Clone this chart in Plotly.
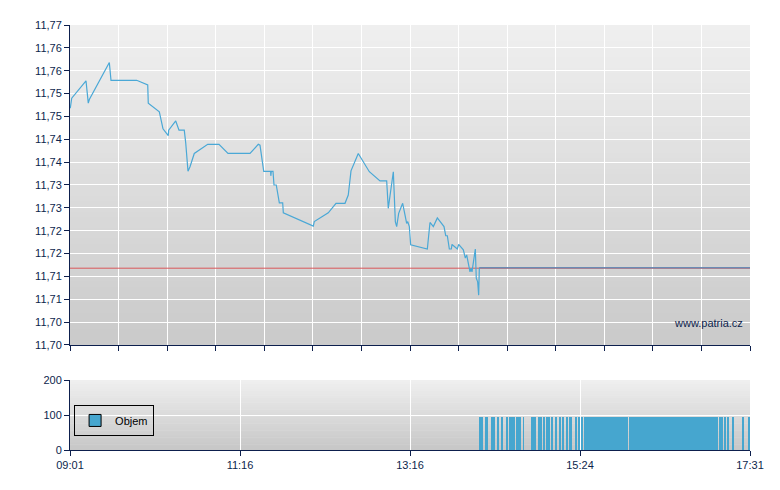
#!/usr/bin/env python3

import plotly.graph_objects as go

# price trace, minutes since 09:01
price_min = [0.2, 1.3, 12, 13.7, 14.5, 29.5, 30.75, 50, 58.3, 58.7,
             67, 69.75, 73.7, 74, 79.3, 81.75, 85.7, 86.8, 88.5, 90,
             93.2, 103.3, 111.75, 118.5, 135, 141.2, 142.5, 144, 145.3, 150.5,
             150.6, 151, 152.25, 153, 154.7, 157, 159.5, 160, 182.5, 183.2,
             193.7, 199.5, 206.25, 208.7, 210.75, 216.2, 224.5, 232.5, 237.5, 238.7,
             242.5, 244, 245, 246.5, 249.5, 252.5, 253.3, 254.5, 255.5, 268,
             270, 272.5, 275.5, 277.5, 280.5, 281.8, 283, 284.5, 286, 286.5,
             290.5, 291.5, 295, 296.5, 297.5, 300, 300.75, 301.5, 304, 304.7,
             305.75, 306.5, 307]
price = [11.7518, 11.7540, 11.7578, 11.7529, 11.7537, 11.7618, 11.7579, 11.7579, 11.7569, 11.7529,
         11.7510, 11.7473, 11.7458, 11.7470, 11.7490, 11.7470, 11.7470, 11.7442, 11.7380, 11.7390,
         11.7419, 11.7439, 11.7439, 11.7419, 11.7419, 11.7439, 11.7437, 11.7405, 11.7380, 11.7380,
         11.7370, 11.7380, 11.7380, 11.7350, 11.7350, 11.7311, 11.7311, 11.7289, 11.7260, 11.7270,
         11.7289, 11.7310, 11.7310, 11.7328, 11.7381, 11.7419, 11.7379, 11.7359, 11.7359, 11.7299,
         11.7379, 11.7270, 11.7259, 11.7288, 11.7310, 11.7266, 11.7270, 11.7259, 11.7219, 11.7210,
         11.7268, 11.7259, 11.7278, 11.7270, 11.7259, 11.7239, 11.7239, 11.7210, 11.7210, 11.7220,
         11.7210, 11.7220, 11.7208, 11.7190, 11.7197, 11.7160, 11.7168, 11.7160, 11.7210, 11.7146,
         11.7138, 11.7109, 11.7169]
prev_close = 11.7168
day_end = 510

# volume blocks (start/end minute) and volume
vol_start = [306.75, 308.25, 311.5, 315.75, 320, 323.25, 326.75, 329.5, 331.25, 332.5,
             334.5, 336.25, 339.75, 345.75, 347.5, 351.5, 353, 355, 357, 359,
             361, 363.5, 367, 369.5, 372.5, 374.5, 378.75, 381.5, 383.5, 385.5,
             419.25, 487, 490.75, 493, 496.75, 504.5, 508.25]
vol_end = [307.7, 310, 313.5, 318.75, 321.75, 324.75, 328.25, 330.5, 332, 333.5,
           335.75, 338, 340.25, 347, 349.5, 352.5, 354.25, 356.25, 358, 360.25,
           362.5, 365, 368.5, 370.75, 373.75, 376.5, 379.75, 382.5, 384.5, 418.5,
           486.25, 490, 492, 494, 497.5, 505.5, 510]
vol = [95, 95, 95, 95, 95, 95, 95, 95, 95, 95,
       95, 95, 95, 95, 95, 95, 95, 95, 95, 95,
       95, 95, 95, 95, 95, 95, 95, 95, 95, 95,
       95, 95, 95, 95, 95, 95, 95]

x_tickvals = [0, 127.5, 255, 382.5, 510]
x_ticktext = ["09:01", "11:16", "13:16", "15:24", "17:31"]
y_tickvals = [11.70, 11.705, 11.71, 11.715, 11.72, 11.725, 11.73, 11.735,
              11.74, 11.745, 11.75, 11.755, 11.76, 11.765, 11.77]
y_ticktext = ["11,70", "11,70", "11,71", "11,71", "11,72", "11,72", "11,73", "11,73",
              "11,74", "11,74", "11,75", "11,75", "11,76", "11,76", "11,77"]

navy = "#0d1f4d"
font = dict(family="Liberation Sans, Arial, sans-serif", size=11, color=navy)

fig = go.Figure()

fig.add_trace(go.Scatter(x=[0, day_end], y=[prev_close, prev_close], mode="lines",
                         line=dict(color="#d9585a", width=1), showlegend=False,
                         xaxis="x", yaxis="y"))
fig.add_trace(go.Scatter(x=price_min, y=price, mode="lines",
                         line=dict(color="#4aa8d6", width=1.2), showlegend=False,
                         xaxis="x", yaxis="y"))
# last price carried to the close, drawn over the red line
fig.add_trace(go.Scatter(x=[price_min[-1], day_end], y=[price[-1], price[-1]], mode="lines",
                         line=dict(color="rgba(95,135,180,0.9)", width=1.3), showlegend=False,
                         xaxis="x", yaxis="y"))

fig.add_trace(go.Bar(
    x=[(s + e) / 2 for s, e in zip(vol_start, vol_end)],
    y=vol,
    width=[e - s for s, e in zip(vol_start, vol_end)],
    marker=dict(color="#46a6cf", line=dict(width=0)),
    name="Objem", showlegend=False, xaxis="x2", yaxis="y2",
))
# legend entry only (square with a black border)
fig.add_trace(go.Bar(x=[None], y=[None], name="Objem",
                     marker=dict(color="#46a6cf", line=dict(color="black", width=1)),
                     xaxis="x2", yaxis="y2"))

# fake vertical gradient behind both panels
shapes = []
n = 60
for (y0, y1, c_top, c_bot) in [(0.2471, 1.0, 239, 202), (0.0, 0.1647, 239, 199)]:
    step = (y1 - y0) / n
    for i in range(n):
        f = i / (n - 1)
        c = round(c_top + (c_bot - c_top) * f)
        top = y1 - step * i
        bot = max(y0, y1 - step * (i + 1) - step * 0.6)
        shapes.append(dict(type="rect", xref="paper", yref="paper", x0=0, x1=1,
                           y0=bot, y1=top, fillcolor=f"rgb({c},{c},{c})",
                           line=dict(width=0), layer="below"))

axis_common = dict(showline=True, linecolor=navy, linewidth=1, ticks="outside",
                   ticklen=5, tickcolor=navy, gridcolor="white", gridwidth=1,
                   zeroline=False, tickfont=font, automargin=False)

# page body adds an 8px offset, so margins are shifted to compensate
fig.update_layout(
    width=780, height=490,
    margin=dict(l=62, r=38, t=17, b=48),
    paper_bgcolor="white",
    plot_bgcolor="rgba(0,0,0,0)",
    shapes=shapes,
    bargap=0,
    xaxis=dict(domain=[0, 1], anchor="y", range=[0, day_end],
               tickvals=[day_end * i / 14 for i in range(15)], showticklabels=False,
               **axis_common),
    yaxis=dict(domain=[0.2471, 1], anchor="x", range=[11.70, 11.77],
               tickvals=y_tickvals, ticktext=y_ticktext, **axis_common),
    xaxis2=dict(domain=[0, 1], anchor="y2", range=[0, day_end],
                tickvals=x_tickvals, ticktext=x_ticktext, **axis_common),
    yaxis2=dict(domain=[0, 0.1647], anchor="x2", range=[0, 200],
                tickvals=[0, 100, 200], **axis_common),
    legend=dict(x=0.006, y=0.106, xanchor="left", yanchor="top",
                bgcolor="rgba(0,0,0,0)", bordercolor="black", borderwidth=1,
                font=dict(family="Liberation Sans, Arial, sans-serif", size=11, color="black"),
                itemwidth=30, tracegroupgap=0),
    showlegend=True,
    annotations=[dict(text="www.patria.cz", xref="paper", yref="paper",
                      x=0.992, y=0.299, xanchor="right", yanchor="middle",
                      showarrow=False, font=font)],
)

fig.write_html("out.html")
